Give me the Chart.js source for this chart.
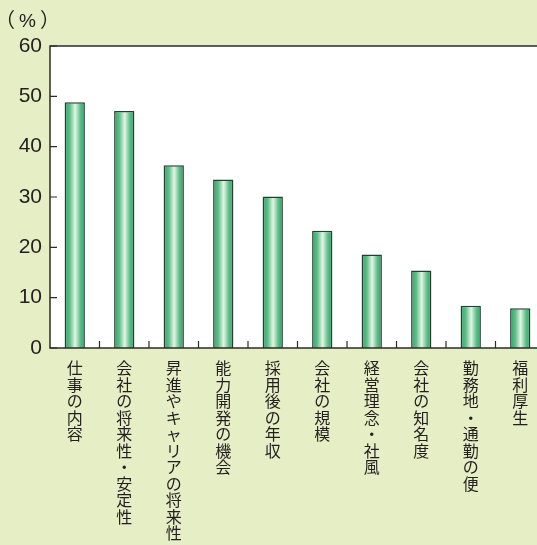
<!DOCTYPE html>
<html>
<head>
<meta charset="utf-8">
<script src="https://cdn.jsdelivr.net/npm/chart.js@4.4.1/dist/chart.umd.min.js"></script>
<style>
  html, body { margin: 0; padding: 0; overflow: hidden; background: #e6eec5; }
  #wrap { position: absolute; left: 0; top: 0; width: 545px; height: 545px; }
</style>
</head>
<body>
<div id="wrap"><canvas id="chart1"></canvas></div>
<script>
// categories and shares (%)
var categories = [
  "仕事の内容",
  "会社の将来性・安定性",
  "昇進やキャリアの将来性",
  "能力開発の機会",
  "採用後の年収",
  "会社の規模",
  "経営理念・社風",
  "会社の知名度",
  "勤務地・通勤の便",
  "福利厚生",
];
var values = [48.8, 47.1, 36.3, 33.5, 30.1, 23.3, 18.6, 15.4, 8.4, 7.9];
var yTicks = [0, 10, 20, 30, 40, 50, 60];

var textColor = "#231f20";
var cjkFont = '"Noto Sans CJK JP", "Noto Sans CJK SC", sans-serif';

// white plot area, frame, inward tick marks and the unit label
var frame = {
  id: "frame",
  beforeDatasetsDraw: function (chart) {
    var ctx = chart.ctx, a = chart.chartArea;
    ctx.save();
    ctx.fillStyle = "#ffffff";
    ctx.fillRect(a.left, a.top, a.right - a.left, a.bottom - a.top);
    ctx.restore();
  },
  afterDatasetsDraw: function (chart) {
    var ctx = chart.ctx, a = chart.chartArea;
    var xs = chart.scales.x, ys = chart.scales.y;
    ctx.save();
    ctx.strokeStyle = "#2b2b2b";
    ctx.lineWidth = 1.5;
    ctx.strokeRect(a.left, a.top, a.right - a.left, a.bottom - a.top);

    ctx.lineWidth = 1.2;
    ctx.beginPath();
    yTicks.forEach(function (v) {
      var y = ys.getPixelForValue(v);
      ctx.moveTo(a.left, y);
      ctx.lineTo(a.left + 7, y);
    });
    for (var i = 1; i < categories.length; i++) {
      var x = (xs.getPixelForTick(i - 1) + xs.getPixelForTick(i)) / 2;
      ctx.moveTo(x, a.bottom);
      ctx.lineTo(x, a.bottom - 7);
    }
    ctx.stroke();

    // unit: parentheses from the CJK font, percent sign from the sans font
    ctx.fillStyle = textColor;
    ctx.textBaseline = "alphabetic";
    ctx.font = "20px " + cjkFont;
    ctx.fillText("（", -5, 27);
    ctx.fillText("）", 40, 27);
    ctx.font = '19px "Liberation Sans", Arial, sans-serif';
    ctx.fillText("%", 19, 27);
    ctx.restore();
  },
};

// each bar gets a horizontal cylinder-like gradient
function barFill(context) {
  var chart = context.chart;
  if (!chart.chartArea) return "#4cb47c";
  var xs = chart.scales.x;
  var cx = xs.getPixelForValue(context.dataIndex);
  var half = 10;
  var g = chart.ctx.createLinearGradient(cx - half, 0, cx + half, 0);
  g.addColorStop(0, "#36a366");
  g.addColorStop(0.25, "#5bbf88");
  g.addColorStop(0.52, "#e6f4e4");
  g.addColorStop(0.78, "#5bbf88");
  g.addColorStop(1, "#319f62");
  return g;
}

var ctx = document.getElementById("chart1").getContext("2d");
var myChart = new Chart(ctx, {
  type: "bar",
  data: {
    labels: categories,
    datasets: [
      {
        data: values,
        backgroundColor: barFill,
        borderColor: "#2a3d33",
        borderWidth: 1.5,
        borderSkipped: "bottom",
        barPercentage: 0.41,
        categoryPercentage: 1,
      },
    ],
  },
  options: {
    responsive: true,
    maintainAspectRatio: false,
    animation: false,
    devicePixelRatio: 1,
    layout: { padding: { top: 46, left: 0, right: 0, bottom: 0 } },
    plugins: {
      legend: { display: false },
      tooltip: { enabled: false },
    },
    scales: {
      x: {
        grid: { display: false, drawTicks: false },
        border: { display: false },
        afterFit: function (scale) {
          scale.height = 197;
        },
        ticks: {
          autoSkip: false,
          maxRotation: 0,
          minRotation: 0,
          padding: 12,
          color: textColor,
          font: { family: cjkFont, size: 16, lineHeight: 1.03 },
          callback: function (v, i) {
            return categories[i].split("");
          },
        },
      },
      y: {
        min: 0,
        max: 60,
        grid: { display: false, drawTicks: false },
        border: { display: false },
        afterFit: function (scale) {
          scale.width = 50;
        },
        afterBuildTicks: function (scale) {
          scale.ticks = yTicks.map(function (v) {
            return { value: v };
          });
        },
        ticks: {
          padding: 8,
          color: textColor,
          font: { family: '"Liberation Sans", Arial, sans-serif', size: 21 },
        },
      },
    },
  },
  plugins: [frame],
});
</script>
</body>
</html>
